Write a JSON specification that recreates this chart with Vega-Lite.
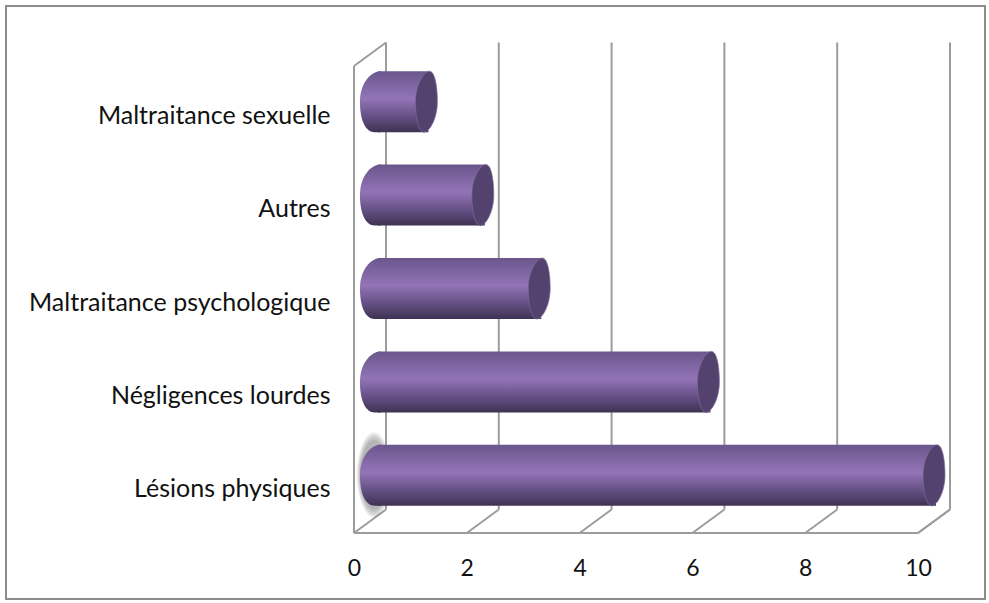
{
"$schema":"https://vega.github.io/schema/vega-lite/v6.json",
"width":979,"height":593,
"autosize":"none",
"padding":{"left":6,"top":6,"right":4,"bottom":4},
"background":"white",
"view":{"stroke":"#8c8c8c","strokeWidth":2,"fill":"white"},
"config":{"font":"Lato","axis":{"grid":false,"domain":false,"ticks":false,"labelFont":"Lato","labelColor":"#111111","title":null}},
"datasets":{
"bars":[
{"cat":"Maltraitance sexuelle","v":1},
{"cat":"Autres","v":2},
{"cat":"Maltraitance psychologique","v":3},
{"cat":"Négligences lourdes","v":6},
{"cat":"Lésions physiques","v":10}],
"grid":[{"k":0},{"k":2},{"k":4},{"k":6},{"k":8},{"k":10}]
},
"layer":[
{"data":{"name":"grid"},"mark":{"type":"rule","stroke":"#9c9c9c","strokeWidth":2,"xOffset":32,"yOffset":-23.5,"y2Offset":-23.5},
 "encoding":{"x":{"field":"k","type":"quantitative","scale":{"domain":[-6.17,11.188],"nice":false,"zero":false,"range":[0,979]},
   "axis":{"values":[0,2,4,6,8,10],"offset":-42,"labelPadding":0,"labelBaseline":"top","labelFontSize":23,"format":"d"}},
  "y":{"datum":0,"type":"quantitative","scale":{"domain":[0,5],"range":[527,60]},"axis":null},"y2":{"datum":5}}},
{"data":{"name":"grid"},"mark":{"type":"rule","stroke":"#9c9c9c","strokeWidth":2,"x2Offset":32,"y2Offset":-23.5},
 "encoding":{"x":{"field":"k","type":"quantitative"},"x2":{"field":"k"},
  "y":{"datum":0,"type":"quantitative","scale":{"domain":[0,5],"range":[527,60]},"axis":null},"y2":{"datum":0}}},
{"data":{"values":[{"a":0,"b":0,"c":0,"d":5},{"a":0,"b":10,"c":0,"d":0}]},"mark":{"type":"rule","stroke":"#9c9c9c","strokeWidth":2},
 "encoding":{"x":{"field":"a","type":"quantitative"},"x2":{"field":"b"},
  "y":{"field":"c","type":"quantitative","scale":{"domain":[0,5],"range":[527,60]},"axis":null},"y2":{"field":"d"}}},
{"data":{"values":[{"a":0}]},"mark":{"type":"rule","stroke":"#9c9c9c","strokeWidth":2,"x2Offset":32,"y2Offset":-23.5},
 "encoding":{"x":{"field":"a","type":"quantitative"},"x2":{"field":"a"},
  "y":{"datum":5,"type":"quantitative","scale":{"domain":[0,5],"range":[527,60]},"axis":null},"y2":{"datum":5}}},
{"data":{"values":[{"a":10}]},"mark":{"type":"rule","stroke":"#9c9c9c","strokeWidth":2,"xOffset":0,"x2Offset":32,"y2Offset":-23.5},
 "encoding":{"x":{"field":"a","type":"quantitative"},"x2":{"field":"a"},
  "y":{"datum":0,"type":"quantitative","scale":{"domain":[0,5],"range":[527,60]},"axis":null},"y2":{"datum":0}}},
{"data":{"values":[{"a":0}]},"mark":{"type":"point","filled":true,"opacity":0.13,"fill":"#555555","xOffset":20,"yOffset":-58,"size":7225,"shape":"M0,-1 C0.22,-1 0.4,-0.5 0.4,0 C0.4,0.5 0.22,1 0,1 C-0.22,1 -0.4,0.5 -0.4,0 C-0.4,-0.5 -0.22,-1 0,-1 Z"},
 "encoding":{"x":{"field":"a","type":"quantitative"},"y":{"datum":0,"type":"quantitative","scale":{"domain":[0,5],"range":[527,60]},"axis":null}}},
{"data":{"values":[{"a":0}]},"mark":{"type":"point","filled":true,"opacity":0.13,"fill":"#555555","xOffset":20,"yOffset":-58,"size":6400,"shape":"M0,-1 C0.22,-1 0.4,-0.5 0.4,0 C0.4,0.5 0.22,1 0,1 C-0.22,1 -0.4,0.5 -0.4,0 C-0.4,-0.5 -0.22,-1 0,-1 Z"},
 "encoding":{"x":{"field":"a","type":"quantitative"},"y":{"datum":0,"type":"quantitative","scale":{"domain":[0,5],"range":[527,60]},"axis":null}}},
{"data":{"values":[{"a":0}]},"mark":{"type":"point","filled":true,"opacity":0.13,"fill":"#555555","xOffset":20,"yOffset":-58,"size":5625,"shape":"M0,-1 C0.22,-1 0.4,-0.5 0.4,0 C0.4,0.5 0.22,1 0,1 C-0.22,1 -0.4,0.5 -0.4,0 C-0.4,-0.5 -0.22,-1 0,-1 Z"},
 "encoding":{"x":{"field":"a","type":"quantitative"},"y":{"datum":0,"type":"quantitative","scale":{"domain":[0,5],"range":[527,60]},"axis":null}}},
{"data":{"values":[{"a":0}]},"mark":{"type":"point","filled":true,"opacity":0.13,"fill":"#555555","xOffset":20,"yOffset":-58,"size":4900,"shape":"M0,-1 C0.22,-1 0.4,-0.5 0.4,0 C0.4,0.5 0.22,1 0,1 C-0.22,1 -0.4,0.5 -0.4,0 C-0.4,-0.5 -0.22,-1 0,-1 Z"},
 "encoding":{"x":{"field":"a","type":"quantitative"},"y":{"datum":0,"type":"quantitative","scale":{"domain":[0,5],"range":[527,60]},"axis":null}}},
{"data":{"name":"bars"},
 "mark":{"type":"point","filled":true,"opacity":1,"xOffset":16,"yOffset":-11,"size":3721,"shape":"M0.35,-1 C0.02,-1 -0.33,-0.6 -0.33,0 C-0.33,0.6 -0.15,1 0.15,1 L0.35,1 Z",
  "fill":{"gradient":"linear","x1":0,"y1":0,"x2":0,"y2":1,"stops":[{"offset":0,"color":"#6a568c"},{"offset":0.45,"color":"#9374b7"},{"offset":0.78,"color":"#5f4c7e"},{"offset":1,"color":"#3f3252"}]}},
 "encoding":{"x":{"datum":0,"type":"quantitative"},"y":{"field":"cat","type":"nominal","scale":{"domain":["Maltraitance sexuelle","Autres","Maltraitance psychologique","Négligences lourdes","Lésions physiques"],"range":[60,527],"paddingInner":0,"paddingOuter":0},"axis":null}}},
{"data":{"name":"bars"},
 "mark":{"type":"bar","size":61,"xOffset":18,"x2Offset":24,"yOffset":-11,
  "fill":{"gradient":"linear","x1":0,"y1":0,"x2":0,"y2":1,"stops":[{"offset":0,"color":"#6a568c"},{"offset":0.45,"color":"#9374b7"},{"offset":0.78,"color":"#5f4c7e"},{"offset":1,"color":"#3f3252"}]}},
 "encoding":{"x":{"field":"v","type":"quantitative"},"x2":{"datum":0},
  "y":{"field":"cat","type":"nominal","scale":{"domain":["Maltraitance sexuelle","Autres","Maltraitance psychologique","Négligences lourdes","Lésions physiques"],"range":[60,527],"paddingInner":0,"paddingOuter":0},
   "axis":{"orient":"left","offset":-324,"labelPadding":0,"labelLimit":400,"labelFontSize":25,"labelOffset":3}}}},
{"data":{"name":"bars"},
 "mark":{"type":"point","filled":true,"opacity":1,"xOffset":16,"yOffset":-11,"size":3721,"stroke":"#7d6d99","strokeWidth":0.7,"shape":"M0.1,-1 C0.28,-1 0.36,-0.5 0.36,0 C0.36,0.55 0.1,1 -0.08,1 C-0.26,1 -0.36,0.5 -0.36,0 C-0.36,-0.55 -0.08,-1 0.1,-1 Z",
  "fill":"#54426e"},
 "encoding":{"x":{"field":"v","type":"quantitative"},"y":{"field":"cat","type":"nominal","scale":{"domain":["Maltraitance sexuelle","Autres","Maltraitance psychologique","Négligences lourdes","Lésions physiques"],"range":[60,527],"paddingInner":0,"paddingOuter":0},"axis":null}}}
],
"resolve":{"scale":{"y":"independent"}}
}
